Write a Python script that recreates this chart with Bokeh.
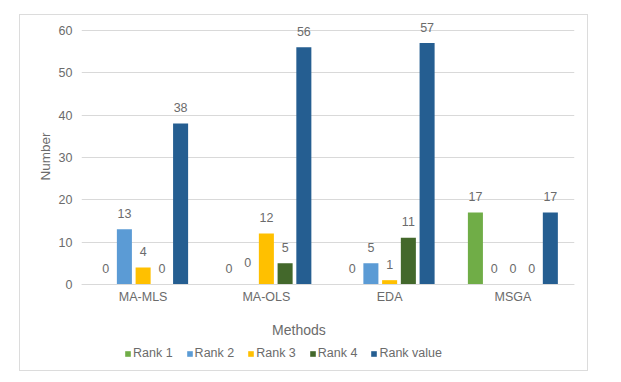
from bokeh.plotting import figure
from bokeh.models import (FactorRange, ColumnDataSource, FixedTicker, Legend, LegendItem, Title, Label)
from bokeh.transform import dodge
from bokeh.core.properties import value
from bokeh.embed import file_html
from bokeh.resources import INLINE

categories = ["MA-MLS", "MA-OLS", "EDA", "MSGA"]
series_names = ["Rank 1", "Rank 2", "Rank 3", "Rank 4", "Rank value"]
rank1 = [0, 0, 0, 17]
rank2 = [13, 0, 5, 0]
rank3 = [4, 12, 1, 0]
rank4 = [0, 5, 11, 0]
rank_value = [38, 56, 57, 17]
y_ticks = [0, 10, 20, 30, 40, 50, 60]

series_values = [rank1, rank2, rank3, rank4, rank_value]
colors = ["#70AD47", "#5B9BD5", "#FFC000", "#43682B", "#255E91"]
offsets = [-0.304, -0.152, 0.0, 0.152, 0.304]
TEXT = "#6b6b6b"
FONT = "Liberation Sans"

p = figure(x_range=FactorRange(*categories, range_padding=0), y_range=(-20.8, 63.5),
           width=569, height=357, output_backend="svg", toolbar_location=None,
           min_border_left=61, min_border_right=15, min_border_top=0, min_border_bottom=0)
p.margin = (14, 0, 0, 19)
p.styles = {"border": "1px solid #dcdcdc", "box-sizing": "border-box"}
p.outline_line_color = None
p.background_fill_color = "white"
p.border_fill_color = "white"

items = []
for name, vals, col, off in zip(series_names, series_values, colors, offsets):
    lift = [6 if (name == "Rank 2" and c == "MA-OLS") else 0 for c in categories]
    src = ColumnDataSource(dict(cat=categories, v=vals,
                                lab=[str(v) for v in vals],
                                yo=[-16 - l for l in lift]))
    r = p.vbar(x=dodge("cat", off, range=p.x_range), top="v", bottom=0, width=0.122,
               source=src, fill_color=col, line_color=None)
    p.text(x=dodge("cat", off, range=p.x_range), y="v", text="lab", source=src,
           y_offset="yo", text_align="center", text_baseline="middle",
           text_font=value(FONT), text_font_size="12.5px", text_color=TEXT)
    items.append(LegendItem(label=name, renderers=[r]))

p.xgrid.grid_line_color = None
p.ygrid.grid_line_color = "#d9d9d9"
p.ygrid.ticker = FixedTicker(ticks=y_ticks)

p.yaxis.ticker = FixedTicker(ticks=y_ticks)
p.yaxis.axis_line_color = None
p.yaxis.major_tick_line_color = None
p.yaxis.minor_tick_line_color = None
p.yaxis.major_tick_out = 0
p.yaxis.major_label_standoff = 9
p.yaxis.major_label_text_font = FONT
p.yaxis.major_label_text_font_size = "12.5px"
p.yaxis.major_label_text_color = TEXT

ytitle = Title(text="Number", align="right", offset=117, standoff=6,
               vertical_align="bottom",
               text_font=FONT, text_font_size="13.5px", text_font_style="normal",
               text_color=TEXT)
p.add_layout(ytitle, "left")

p.xaxis.fixed_location = 0
p.xaxis.axis_line_color = "#d9d9d9"
p.xaxis.major_tick_line_color = None
p.xaxis.minor_tick_line_color = None
p.xaxis.major_tick_out = 0
p.xaxis.major_label_standoff = 6
p.xaxis.major_label_text_font = FONT
p.xaxis.major_label_text_font_size = "12.5px"
p.xaxis.major_label_text_color = TEXT

p.add_layout(Label(x=1.764, y=-10.85, text="Methods", text_align="center",
                   text_baseline="middle", text_font=FONT, text_font_size="14px",
                   text_color=TEXT))

legend = Legend(items=items, orientation="horizontal", location=(43, 12),
                glyph_width=7, glyph_height=7, label_standoff=2, spacing=13,
                padding=0, margin=0, border_line_color=None, background_fill_alpha=0,
                label_text_font=FONT, label_text_font_size="12.5px",
                label_text_color=TEXT, label_height=12)
p.add_layout(legend, "center")

open("out.html", "w").write(file_html(p, INLINE))
